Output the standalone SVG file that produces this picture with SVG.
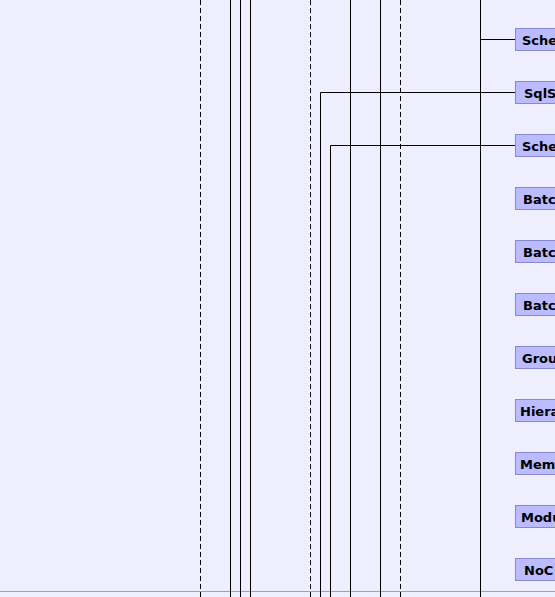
<svg xmlns="http://www.w3.org/2000/svg" width="555" height="597" viewBox="0 0 555 597">
<style>
.bg{fill:#EEEEFF}
.l{stroke:#000;stroke-width:1;fill:none}
.d{stroke:#000;stroke-width:1;fill:none;stroke-dasharray:5,3}
.box{fill:#BBBBFF;stroke:#8888CC;stroke-width:1}
.t{font-family:"DejaVu Sans",sans-serif;font-weight:bold;font-size:13px;fill:#000}
</style>
<rect class="bg" x="0" y="0" width="555" height="597"/>
<line x1="0" y1="591.5" x2="555" y2="591.5" stroke="#A0A0A8" stroke-width="1"/>
<g id="connectors">
<path class="d" d="M200.5 0V597M310.5 0V597M400.5 0V597"/>
<path class="l" d="M230.5 0V597M240.5 0V597M250.5 0V597M350.5 0V597M380.5 0V597M480.5 0V597"/>
<path class="l" d="M480.5 39.5H515"/>
<path class="l" d="M320.5 597V92.5H515"/>
<path class="l" d="M330.5 597V145.5H515"/>
</g>
<g id="n1"><rect class="box" x="515.5" y="28.5" width="50" height="22"/><text class="t" x="522" y="44.5">Sche</text></g>
<g id="n2"><rect class="box" x="515.5" y="81.5" width="50" height="22"/><text class="t" x="524" y="97.5">SqlS</text></g>
<g id="n3"><rect class="box" x="515.5" y="134.5" width="50" height="22"/><text class="t" x="522" y="150.5">Sche</text></g>
<g id="n4"><rect class="box" x="515.5" y="187.5" width="50" height="22"/><text class="t" x="523" y="203.5">Batc</text></g>
<g id="n5"><rect class="box" x="515.5" y="240.5" width="50" height="22"/><text class="t" x="523" y="256.5">Batc</text></g>
<g id="n6"><rect class="box" x="515.5" y="293.5" width="50" height="22"/><text class="t" x="523" y="309.5">Batc</text></g>
<g id="n7"><rect class="box" x="515.5" y="346.5" width="50" height="22"/><text class="t" x="522" y="362.5">Grou</text></g>
<g id="n8"><rect class="box" x="515.5" y="399.5" width="50" height="22"/><text class="t" x="520" y="415.5">Hiera</text></g>
<g id="n9"><rect class="box" x="515.5" y="452.5" width="50" height="22"/><text class="t" x="520" y="468.5">Mem</text></g>
<g id="n10"><rect class="box" x="515.5" y="505.5" width="50" height="22"/><text class="t" x="521" y="521.5">Modu</text></g>
<g id="n11"><rect class="box" x="515.5" y="558.5" width="50" height="22"/><text class="t" x="524" y="574.5">NoC</text></g>
</svg>
